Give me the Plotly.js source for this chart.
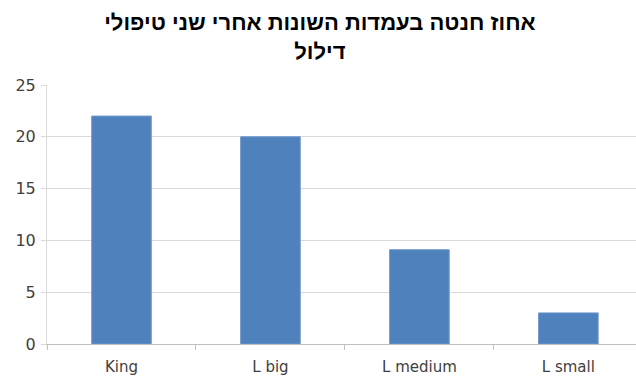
<!DOCTYPE html>
<html>
<head>
<meta charset="utf-8">
<script src="https://cdn.plot.ly/plotly-3.0.1.min.js"></script>
<style>html,body{margin:0;padding:0;background:#fff;}#chart{width:636px;height:376px;}</style>
</head>
<body>
<div id="chart"></div>
<script>
const categories = ["King", "L big", "L medium", "L small"];
const values = [22, 20, 9.1, 3];
const titleText = "אחוז חנטה בעמדות השונות אחרי שני טיפולי<br>דילול";
const yTicks = [0, 5, 10, 15, 20, 25];

const trace = {
  type: "bar",
  x: categories,
  y: values,
  width: 0.4,
  marker: {color: "#4f81bd", line: {color: "#6f97cc", width: 1}},
  hoverinfo: "x+y"
};

const layout = {
  width: 636,
  height: 376,
  margin: {l: 47, r: 0, t: 85, b: 32, pad: 0},
  paper_bgcolor: "#ffffff",
  plot_bgcolor: "#ffffff",
  font: {family: "DejaVu Sans, Liberation Sans, sans-serif", color: "#404040", size: 15},
  title: {
    text: titleText,
    font: {family: "Liberation Sans, Arial, sans-serif", size: 22, color: "#000000", weight: "bold"},
    x: 0.503, xref: "container", xanchor: "center",
    y: 0.92, yref: "container", yanchor: "middle"
  },
  showlegend: false,
  xaxis: {
    type: "category",
    range: [-0.5, 3.454],
    showgrid: false,
    showline: true,
    linecolor: "#bfbfbf",
    linewidth: 1,
    ticks: "outside",
    tickson: "boundaries",
    ticklen: 5,
    tickcolor: "#bfbfbf",
    ticklabelstandoff: 9,
    tickfont: {size: 15, color: "#404040"},
    zeroline: false,
    fixedrange: true
  },
  yaxis: {
    range: [0, 25],
    tickvals: yTicks,
    ticktext: yTicks.map(String),
    showgrid: true,
    gridcolor: "#d9d9d9",
    gridwidth: 1,
    showline: true,
    linecolor: "#d9d9d9",
    linewidth: 1,
    ticks: "outside",
    ticklen: 5,
    tickcolor: "#d9d9d9",
    ticklabelstandoff: 2,
    tickfont: {size: 16, color: "#404040"},
    zeroline: false,
    fixedrange: true
  }
};

Plotly.newPlot("chart", [trace], layout, {displayModeBar: false, staticPlot: true});
</script>
</body>
</html>
